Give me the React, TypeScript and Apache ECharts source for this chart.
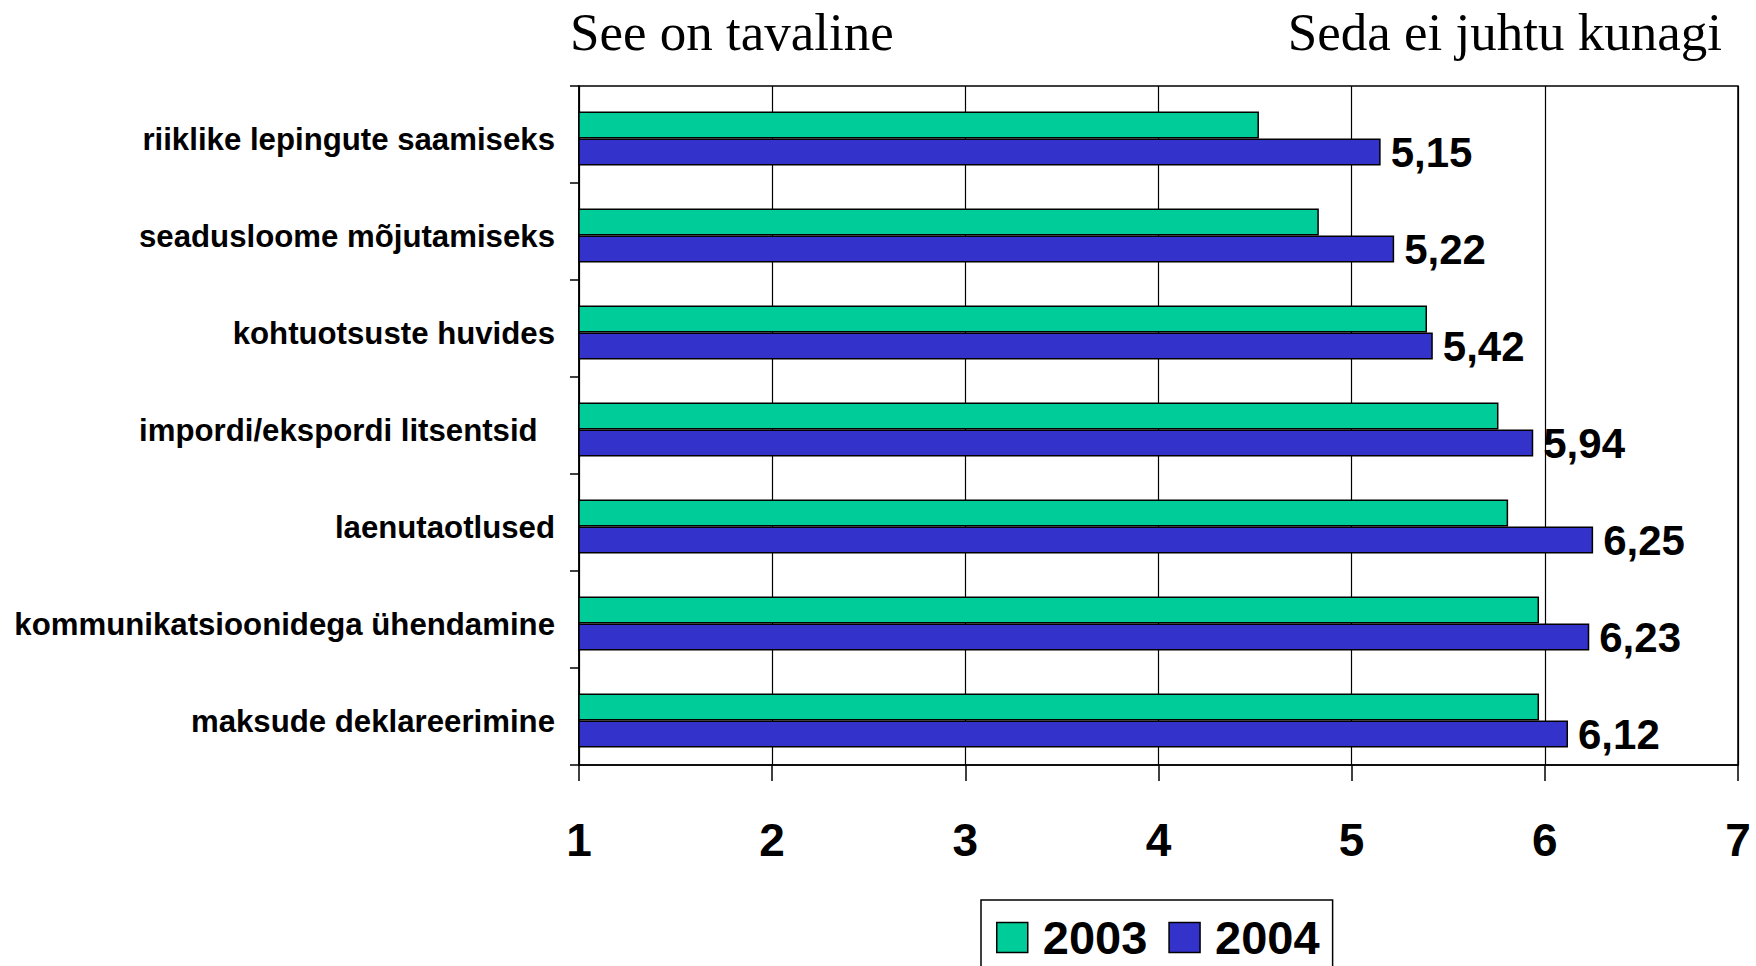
import React, { useEffect, useRef } from "react";
import * as echarts from "echarts";

const categories = [
  "riiklike lepingute saamiseks",
  "seadusloome mõjutamiseks",
  "kohtuotsuste huvides",
  "impordi/ekspordi litsentsid  ",
  "laenutaotlused",
  "kommunikatsioonidega ühendamine",
  "maksude deklareerimine",
];
const values2003 = [4.52, 4.83, 5.39, 5.76, 5.81, 5.97, 5.97];
const values2004 = [5.15, 5.22, 5.42, 5.94, 6.25, 6.23, 6.12];
const seriesNames = ["2003", "2004"];
const xTicks = [1, 2, 3, 4, 5, 6, 7];
const leftTitle = "See on tavaline";
const rightTitle = "Seda ei juhtu kunagi";

const GREEN = "#00CC99";
const BLUE = "#3333CC";
const SANS = "'Liberation Sans', Arial, sans-serif";
const SERIF = "'Liberation Serif', 'Times New Roman', serif";

export default function App() {
  const ref = useRef<HTMLDivElement>(null);
  useEffect(() => {
    if (!ref.current) return;
    const chart = echarts.init(ref.current, null, { renderer: "svg" });
    chart.setOption({
      animation: false,
      backgroundColor: "#fff",
      grid: {
        left: 579,
        right: 18,
        top: 86,
        bottom: 201,
        show: true,
        borderColor: "#000",
        borderWidth: 1.5,
        containLabel: false,
      },
      graphic: [
        {
          type: "text",
          x: 570,
          y: 32,
          style: {
            text: leftTitle,
            font: `normal 53px ${SERIF}`,
            fill: "#000",
            textAlign: "left",
            textVerticalAlign: "middle",
          },
        },
        {
          type: "text",
          x: 1722,
          y: 32,
          style: {
            text: rightTitle,
            font: `normal 53px ${SERIF}`,
            fill: "#000",
            textAlign: "right",
            textVerticalAlign: "middle",
          },
        },
      ],
      legend: {
        left: 981,
        top: 900,
        orient: "horizontal",
        data: seriesNames,
        icon: "rect",
        itemWidth: 31,
        itemHeight: 30,
        itemGap: 21,
        padding: [14, 13, 60, 15],
        borderColor: "#000",
        borderWidth: 1.5,
        backgroundColor: "#fff",
        textStyle: {
          fontFamily: SANS,
          fontWeight: "bold",
          fontSize: 47,
          color: "#000",
          padding: [0, 0, 0, 10],
        },
        itemStyle: { borderColor: "#000", borderWidth: 1.5 },
      },
      xAxis: {
        type: "value",
        min: 1,
        max: 7,
        interval: 1,
        axisLine: { show: true, lineStyle: { color: "#000", width: 1.5 } },
        axisTick: { show: true, length: 16, lineStyle: { color: "#000", width: 1.5 } },
        axisLabel: {
          margin: 52,
          fontFamily: SANS,
          fontWeight: "bold",
          fontSize: 46,
          color: "#000",
          formatter: (v: number) => (xTicks.includes(v) ? String(v) : ""),
        },
        splitLine: { show: true, lineStyle: { color: "#000", width: 1.2 } },
      },
      yAxis: {
        type: "category",
        data: categories,
        inverse: true,
        axisLine: { show: true, lineStyle: { color: "#000", width: 1.5 } },
        axisTick: { show: true, length: 9, interval: 0, lineStyle: { color: "#000", width: 1.5 } },
        axisLabel: {
          margin: 24,
          color: "#000",
          interval: 0,
          formatter: (v: string) => `{l|${v}}`,
          rich: {
            l: {
              fontFamily: SANS,
              fontWeight: "bold",
              fontSize: 31.2,
              color: "#000",
              padding: [10, 0, 0, 0],
            },
          },
        },
        splitLine: { show: false },
      },
      series: [
        {
          name: "spacer",
          type: "bar",
          data: [],
          barWidth: 8,
          barGap: "0%",
          silent: true,
          itemStyle: { color: "transparent" },
        },
        {
          name: seriesNames[0],
          type: "bar",
          data: values2003,
          barWidth: 27,
          barGap: "0%",
          itemStyle: { color: GREEN, borderColor: "#000", borderWidth: 1.5 },
        },
        {
          name: seriesNames[1],
          type: "bar",
          data: values2004,
          barWidth: 27,
          barGap: "0%",
          itemStyle: { color: BLUE, borderColor: "#000", borderWidth: 1.5 },
          label: {
            show: true,
            position: "right",
            distance: 10,
            fontFamily: SANS,
            fontWeight: "bold",
            fontSize: 42,
            color: "#000",
            formatter: (p: any) => Number(p.value).toFixed(2).replace(".", ","),
          },
        },
      ],
    });
    return () => chart.dispose();
  }, []);
  return (
    <div
      ref={ref}
      style={{ position: "fixed", left: 0, top: 0, width: 1756, height: 966, background: "#fff" }}
    />
  );
}
